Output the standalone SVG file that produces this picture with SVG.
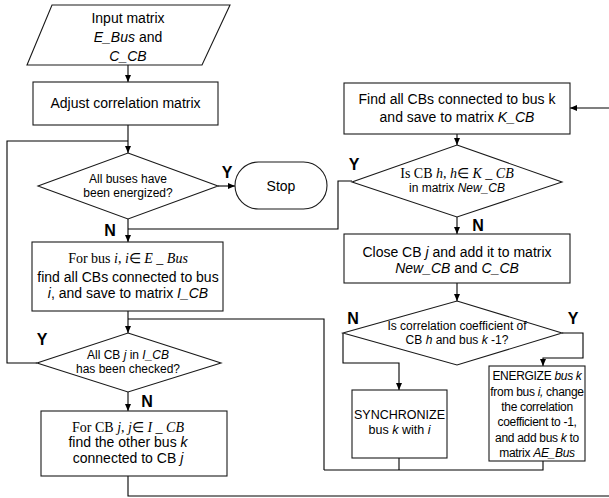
<svg xmlns="http://www.w3.org/2000/svg" width="609" height="498" viewBox="0 0 609 498">
<style>
.s{fill:#fff;stroke:#1a1a1a;stroke-width:1.1}
.c{fill:none;stroke:#000;stroke-width:1.1}
text{font-family:"Liberation Sans",Arial,sans-serif;fill:#000;text-anchor:middle}
.t14{font-size:14px}
.t12{font-size:12px}
.t125{font-size:12.5px}
.e{font-size:12px;letter-spacing:-0.3px}
.m{font-family:"Liberation Serif","Times New Roman",serif;font-size:14px}
.yn{font-size:16px;font-weight:bold}
.i{font-style:italic}
</style>
<defs>
<marker id="a" markerUnits="userSpaceOnUse" markerWidth="7" markerHeight="6" refX="7" refY="3" orient="auto">
<path d="M0,0 L7,3 L0,6 z" fill="#000"/>
</marker>
</defs>
<rect width="609" height="498" fill="#fff"/>
<g id="connectors">
<path class="c" d="M128,65 V82" marker-end="url(#a)"/>
<path class="c" d="M128,125 V153" marker-end="url(#a)"/>
<path class="c" d="M37,363 H7 V141 H128"/>
<path class="c" d="M218,186 H235" marker-end="url(#a)"/>
<path class="c" d="M128,219 V242" marker-end="url(#a)"/>
<path class="c" d="M352,181 H338 V229 H128"/>
<path class="c" d="M128,311 V333" marker-end="url(#a)"/>
<path class="c" d="M324,470 V319 H128"/>
<path class="c" d="M128,392 V411" marker-end="url(#a)"/>
<path class="c" d="M128,476 V496 H612"/>
<path class="c" d="M612,108 H570" marker-end="url(#a)"/>
<path class="c" d="M457,134 V145" marker-end="url(#a)"/>
<path class="c" d="M457,217 V234" marker-end="url(#a)"/>
<path class="c" d="M457,283 V301" marker-end="url(#a)"/>
<path class="c" d="M343,333 V363 H399 V390" marker-end="url(#a)"/>
<path class="c" d="M562,333 H583 V358 H543 V366" marker-end="url(#a)"/>
<path class="c" d="M399,458 V470"/>
<path class="c" d="M543,461 V470 H324"/>
<text class="yn" x="227" y="178">Y</text>
<text class="yn" x="110" y="236">N</text>
<text class="yn" x="42" y="345">Y</text>
<text class="yn" x="147" y="407">N</text>
<text class="yn" x="354" y="170">Y</text>
<text class="yn" x="478" y="231">N</text>
<text class="yn" x="353" y="324">N</text>
<text class="yn" x="573" y="324">Y</text>
</g>
<g id="input">
<polygon class="s" points="52,5 230,5 202,65 27,65"/>
<text class="t14" x="128" y="23">Input matrix</text>
<text class="t14" x="128" y="42"><tspan class="i">E_Bus</tspan> and</text>
<text class="t14 i" x="128" y="61">C_CB</text>
</g>
<g id="adjust">
<rect class="s" x="33" y="82" width="185" height="43"/>
<text class="t14" x="125.5" y="108">Adjust correlation matrix</text>
</g>
<g id="allbuses">
<polygon class="s" points="128,153 218,186 128,219 38,186"/>
<text class="t12" x="128" y="183">All buses have</text>
<text class="t12" x="128" y="197">been energized?</text>
</g>
<g id="stop">
<rect class="s" x="235" y="162" width="92" height="47" rx="23.5"/>
<text class="t14" x="281" y="191">Stop</text>
</g>
<g id="forbus">
<rect class="s" x="32" y="242" width="191" height="69"/>
<text class="m" x="128" y="263">For bus <tspan class="i">i</tspan>, <tspan class="i">i</tspan>∈ <tspan class="i">E _ Bus</tspan></text>
<text class="t14" x="128" y="282">find all CBs connected to bus</text>
<text class="t14" x="128" y="298"><tspan class="i">i</tspan>, and save to matrix <tspan class="i">I_CB</tspan></text>
</g>
<g id="allcb">
<polygon class="s" points="128,333 221,363 128,392 37,363"/>
<text class="t12" x="128" y="359">All CB <tspan class="i">j</tspan> in <tspan class="i">I_CB</tspan></text>
<text class="t12" x="128" y="373">has been checked?</text>
</g>
<g id="forcb">
<rect class="s" x="41" y="411" width="186" height="65"/>
<text class="m" x="128" y="432">For CB  <tspan class="i">j</tspan>, <tspan class="i">j</tspan>∈ <tspan class="i">I _ CB</tspan></text>
<text class="t14" x="128" y="447">find the other bus <tspan class="i">k</tspan></text>
<text class="t14" x="128" y="463">connected to CB <tspan class="i">j</tspan></text>
</g>
<g id="findk">
<rect class="s" x="344" y="83" width="226" height="51"/>
<text class="t14" x="457" y="104">Find all CBs connected to bus k</text>
<text class="t14" x="457" y="122">and save to matrix <tspan class="i">K_CB</tspan></text>
</g>
<g id="iscb">
<polygon class="s" points="457,145 562,182 457,217 352,182"/>
<text class="m" x="457" y="178">Is CB <tspan class="i">h</tspan>, <tspan class="i">h</tspan>∈ <tspan class="i">K _ CB</tspan></text>
<text class="t12" x="457" y="192">in matrix <tspan class="i">New_CB</tspan></text>
</g>
<g id="close">
<rect class="s" x="344" y="234" width="226" height="49"/>
<text class="t14" x="457" y="257">Close CB <tspan class="i">j</tspan> and add it to matrix</text>
<text class="t14" x="457" y="273"><tspan class="i">New_CB</tspan> and <tspan class="i">C_CB</tspan></text>
</g>
<g id="corr">
<polygon class="s" points="457,301 562,333 457,365 343,333"/>
<text class="t12" x="457" y="330">Is correlation coefficient of</text>
<text class="t12" x="457" y="344">CB <tspan class="i">h</tspan> and bus <tspan class="i">k</tspan> -1?</text>
</g>
<g id="sync">
<rect class="s" x="352" y="390" width="95" height="68"/>
<text class="t125" x="399.5" y="419">SYNCHRONIZE</text>
<text class="t125" x="399.5" y="434">bus <tspan class="i">k</tspan> with <tspan class="i">i</tspan></text>
</g>
<g id="energize">
<rect class="s" x="489" y="366" width="96" height="95"/>
<text class="e" x="537" y="380">ENERGIZE <tspan class="i">bus k</tspan></text>
<text class="e" x="537" y="396">from bus <tspan class="i">i,</tspan> change</text>
<text class="e" x="537" y="411">the correlation</text>
<text class="e" x="537" y="426">coefficient to -1,</text>
<text class="e" x="537" y="442">and add bus <tspan class="i">k</tspan> to</text>
<text class="e" x="537" y="457">matrix <tspan class="i">AE_Bus</tspan></text>
</g>
</svg>
